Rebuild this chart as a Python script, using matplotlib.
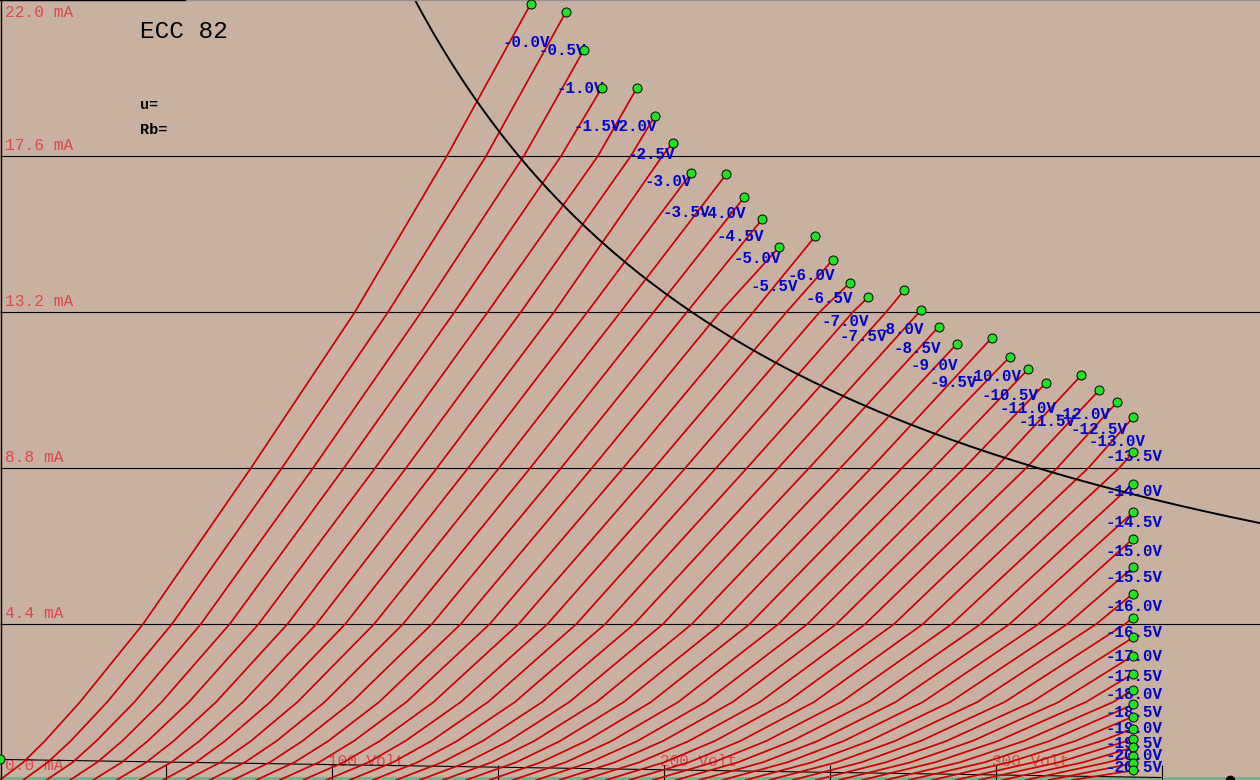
import matplotlib
matplotlib.use("Agg")
from matplotlib import pyplot as plt

# ECC 82 anode characteristics: Ia (mA) against Va (V), one curve per grid voltage
TUBE = "ECC 82"
P_MAX_W = 2.75          # plate dissipation hyperbola

GRID_V = [-0.0, -0.5, -1.0, -1.5, -2.0, -2.5, -3.0, -3.5, -4.0, -4.5,
          -5.0, -5.5, -6.0, -6.5, -7.0, -7.5, -8.0, -8.5, -9.0, -9.5,
          -10.0, -10.5, -11.0, -11.5, -12.0, -12.5, -13.0, -13.5, -14.0, -14.5,
          -15.0, -15.5, -16.0, -16.5, -17.0, -17.5, -18.0, -18.5, -19.0, -19.5,
          -20.0, -20.5, -21.0, -21.5, -22.0, -22.5, -23.0]
N_LABELED = 42   # labels below -20.5 V fall off the bottom

# anode voltage where each curve crosses a given current
VA_AT_0MA = [0.0, 7.0, 14.0, 21.1, 28.1, 35.1, 42.1, 49.1, 56.2, 63.2,
             70.2, 77.2, 84.2, 91.3, 98.3, 105.3, 112.3, 119.3, 126.4, 133.4,
             140.4, 147.4, 154.4, 161.5, 168.5, 175.5, 182.5, 189.5, 196.6, 203.6,
             210.6, 217.6, 224.6, 231.7, 238.7, 245.7, 252.7, 259.7, 266.8, 273.8,
             280.8, 287.8, 294.8, 301.9, 308.9, 315.9, 322.9]
VA_AT_0_5MA = [7.0, 14.4, 21.9, 29.3, 36.7, 44.1, 51.6, 59.0, 66.4, 73.8,
               81.3, 88.7, 96.1, 103.5, 111.0, 118.4, 125.8, 133.2, 140.7, 148.1,
               155.5, 162.9, 170.4, 177.8, 185.2, 192.6, 200.1, 207.5, 214.9, 222.3,
               229.8, 237.2, 244.6, 252.0, 259.5, 266.9, 274.3, 281.7, 289.2, 296.6,
               304.0, 311.4, 318.9, 326.3, 333.7]
VA_AT_1_1MA = [13.5, 21.3, 29.0, 36.8, 44.5, 52.3, 60.1, 67.8, 75.6, 83.3,
               91.1, 98.9, 106.6, 114.4, 122.1, 129.9, 137.7, 145.4, 153.2, 160.9,
               168.7, 176.5, 184.2, 192.0, 199.7, 207.5, 215.3, 223.0, 230.8, 238.5,
               246.3, 254.1, 261.8, 269.6, 277.3, 285.1, 292.9, 300.6, 308.4, 316.1,
               323.9, 331.7, 339.4]
VA_AT_2_2MA = [24.1, 32.3, 40.5, 48.7, 56.9, 65.1, 73.2, 81.4, 89.6, 97.8,
               106.0, 114.2, 122.4, 130.6, 138.8, 147.0, 155.1, 163.3, 171.5, 179.7,
               187.9, 196.1, 204.3, 212.5, 220.7, 228.9, 237.0, 245.2, 253.4, 261.6,
               269.8, 278.0, 286.2, 294.4, 302.6, 310.8, 318.9, 327.1, 335.3]
VA_AT_4_4MA = [43.1, 51.8, 60.5, 69.2, 77.9, 86.6, 95.3, 104.0, 112.7, 121.4,
               130.1, 138.8, 147.5, 156.2, 164.9, 173.6, 182.3, 191.0, 199.7, 208.4,
               217.1, 225.8, 234.5, 243.2, 251.9, 260.6, 269.3, 278.0, 286.7, 295.4,
               304.1, 312.8, 321.5, 330.2, 338.9]
VA_AT_8_8MA = [75.6, 84.9, 94.3, 103.6, 113.0, 122.3, 131.6, 141.0, 150.3, 159.7,
               169.0, 178.3, 187.7, 197.0, 206.4, 215.7, 225.0, 234.4, 243.7, 253.1,
               262.4, 271.7, 281.1, 290.4, 299.8, 309.1, 318.4, 327.8, 337.1]
VA_AT_13_2MA = [106.9, 116.9, 126.9, 136.9, 146.9, 156.9, 166.9, 176.9, 186.9, 196.9,
                206.9, 216.9, 226.9, 236.9, 246.9, 256.9, 266.9, 276.9]
VA_AT_17_6MA = [134.6, 146.4, 157.8, 169.0, 180.1, 190.0, 199.5]

LEVELS = [(0.0, VA_AT_0MA), (0.5, VA_AT_0_5MA), (1.1, VA_AT_1_1MA),
          (2.2, VA_AT_2_2MA), (4.4, VA_AT_4_4MA), (8.8, VA_AT_8_8MA),
          (13.2, VA_AT_13_2MA), (17.6, VA_AT_17_6MA)]

# last point of each curve (green dot)
END_VA = [159.9, 170.5, 175.9, 181.3, 191.9, 197.3, 202.7, 208.1, 218.7, 224.1,
          229.5, 234.6, 245.5, 250.9, 256.0, 261.4, 272.3, 277.4, 282.8, 288.3,
          298.8, 304.2, 309.6, 315.1, 325.6, 331.0, 336.4, 341.3, 341.3, 341.3,
          341.3, 341.3, 341.3, 341.3, 341.3, 341.3, 341.3, 341.3, 341.3, 341.3,
          341.3, 341.3, 341.3, 341.3, 341.3, 341.3, 341.3]
END_MA = [21.90, 21.67, 20.60, 19.53, 19.53, 18.74, 17.98, 17.11, 17.08, 16.43,
          15.81, 15.02, 15.33, 14.68, 14.03, 13.61, 13.81, 13.27, 12.79, 12.31,
          12.48, 11.94, 11.58, 11.21, 11.41, 10.99, 10.65, 10.23, 9.24, 8.36,
          7.55, 6.81, 6.00, 5.26, 4.58, 4.02, 3.51, 3.00, 2.55, 2.13,
          1.79, 1.45, 1.17, 0.92, 0.69, 0.47, 0.27]

GRID_MA = [4.4, 8.8, 13.2, 17.6]
MA_LABELS = [22.0, 17.6, 13.2, 8.8, 4.4, 0.0]
VOLT_LABELS = [100, 200, 300]
VOLT_TICKS = [50, 100, 150, 200, 250, 300, 350]
LOAD_VA = [0.0, 350.0]
LOAD_MA = [0.58, 0.07]
MARK_VA = 370.5

BG = "#C8B1A1"
RED = "#C80000"
LABEL_RED = "#DC4A4A"
BLUE = "#0000CC"
DOT = "#22E022"
BASE_GREEN = "#78B08A"

plt.rcParams["font.family"] = ["Liberation Mono", "DejaVu Sans Mono"]

fig = plt.figure(figsize=(12.6, 7.8), dpi=100, facecolor=BG)
ax = fig.add_axes([0, 0, 1, 1], facecolor=BG)
ax.set_xlim(0, 379.5)
ax.set_ylim(0, 22)
ax.set_xticks([])
ax.set_yticks([])
for s in ax.spines.values():
   s.set_visible(False)

# frame bits
ax.plot([0.0004, 0.0004], [0, 1], transform=ax.transAxes, color="black", lw=1.0, zorder=6)
ax.plot([0, 1], [0.9994, 0.9994], transform=ax.transAxes, color="#9A9088", lw=1.0, zorder=6)
ax.plot([0, 0.147], [0.9994, 0.9994], transform=ax.transAxes, color="black", lw=1.0, zorder=6)

ax.axhspan(0, 0.08, color=BASE_GREEN, lw=0, zorder=1)
ax.hlines(GRID_MA, 0, 379.5, color="black", lw=0.8, zorder=2)

for v in MA_LABELS:
   dy = -17 if v == 22.0 else (10 if v == 0.0 else 6)
   ax.annotate(f"{v:.1f} mA", xy=(0, v), xytext=(5, dy), textcoords="offset pixels",
               va="baseline", ha="left", color=LABEL_RED, fontsize=11.7, zorder=1.5)
for v in VOLT_LABELS:
   ax.annotate(f"{v} Volt", xy=(v, 0), xytext=(-4, 14), textcoords="offset pixels",
               va="baseline", ha="left", color=LABEL_RED, fontsize=11.5, zorder=1.5)
ax.vlines(VOLT_TICKS, 0, 0.42, color="black", lw=0.8, zorder=2)

# load line
ax.plot(LOAD_VA, LOAD_MA, color="black", lw=0.8, zorder=2)
ax.plot(LOAD_VA[0], LOAD_MA[0], "o", ms=6.5, mfc=DOT, mec="black", mew=0.7, zorder=6)
ax.plot(MARK_VA, 0, "o", ms=6, color="black", zorder=6)

# characteristic curves
for i, g in enumerate(GRID_V):
   va, ia = [], []
   for lev, arr in LEVELS:
      if i < len(arr):
         va.append(arr[i])
         ia.append(lev)
   va.append(END_VA[i])
   ia.append(END_MA[i])
   ax.plot(va, ia, color=RED, lw=1.25, solid_joinstyle="round", zorder=3)

# max dissipation hyperbola
hv = [P_MAX_W * 1000 / 22.5 + k * 2.0 for k in range(200)]
ax.plot(hv, [P_MAX_W * 1000 / v for v in hv], color="black", lw=1.4, zorder=4)

ax.plot(END_VA, END_MA, "o", ms=6.5, mfc=DOT, mec="black", mew=0.7, zorder=6)
for i in range(N_LABELED):
   ax.annotate(f"{GRID_V[i]:.1f}V", xy=(END_VA[i], END_MA[i]), xytext=(-28, -39),
               textcoords="offset pixels", ha="left", va="center", color=BLUE,
               fontsize=11.4, fontweight="bold", zorder=5)

fig.text(140 / 1260, 1 - 31 / 780, TUBE, fontsize=17.6, color="black", va="center")
fig.text(140 / 1260, 1 - 105 / 780, "u=", fontsize=11.0, fontweight="bold", va="center")
fig.text(140 / 1260, 1 - 130 / 780, "Rb=", fontsize=11.0, fontweight="bold", va="center")

fig.savefig("out.png", dpi=100, facecolor=BG)
